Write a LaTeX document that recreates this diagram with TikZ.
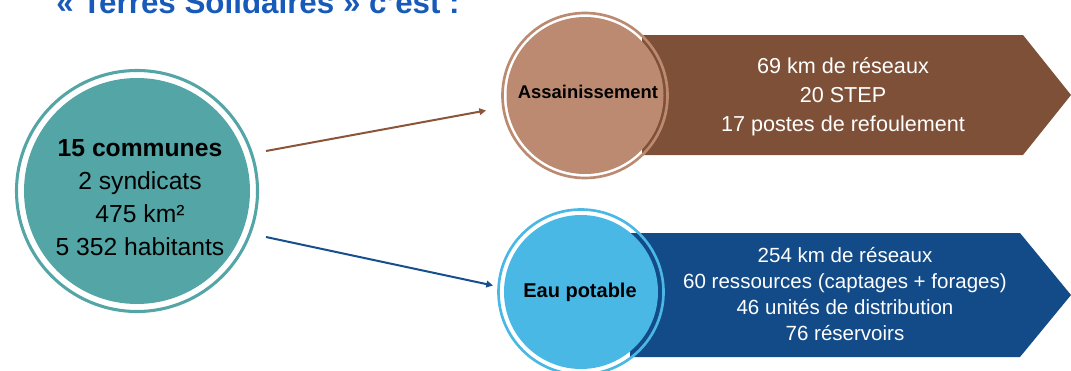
\documentclass[tikz,border=0pt]{standalone}
\usepackage{fontspec}
\setmainfont{Liberation Sans}
\usetikzlibrary{arrows.meta}
\definecolor{teal1}{RGB}{84,165,165}
\definecolor{tan1}{RGB}{187,138,112}
\definecolor{brown1}{RGB}{127,80,56}
\definecolor{lblue}{RGB}{74,184,229}
\definecolor{navy1}{RGB}{18,75,136}
\definecolor{tblue}{RGB}{24,90,185}
\definecolor{abrown}{RGB}{139,85,57}
\definecolor{ablue}{RGB}{22,78,142}
\tikzset{
  ring/.style={draw=#1, line width=2pt, fill=none},
  disc/.style={circle, fill=#1, draw=none, inner sep=0pt},
  conn/.style={-{Triangle[length=5pt,width=5pt]}, line width=1.5pt, draw=#1},
  info/.style={text=white, align=center},
}
\begin{document}
\begin{tikzpicture}[x=0.75pt,y=-0.75pt]
\clip (0,0) rectangle (1071,371);
\useasboundingbox (0,0) rectangle (1071,371);
% title (cut off at top)
\node[anchor=base, text=tblue, font=\bfseries\fontsize{23.5}{28}\selectfont] (title) at (258,13) {« Terres Solidaires » c'est :};
% left circle
\draw[ring=teal1, line width=2.3pt] (137,191) circle[radius=120.5];
\node[disc=teal1, minimum size=169.5pt] (left) at (137,191) {};
\node[align=center, font=\fontsize{18.5}{24.75}\selectfont] (lefttxt) at (140,198)
  {\textbf{15 communes}\\2 syndicats\\475 km²\\5 352 habitants};
% assainissement
\fill[brown1] (642,35) -- (1023,35) -- (1071,95) -- (1023,155) -- (642,155) -- cycle;
\draw[ring=tan1] (585,95.5) circle[radius=82.5];
\node[disc=tan1, minimum size=117.75pt] (ass) at (585,95.5) {};
\node[font=\bfseries\fontsize{13.8}{16}\selectfont] (asstxt) at (588,92) {Assainissement};
\node[info, font=\fontsize{16.2}{21.75}\selectfont] (asinfo) at (843,97)
  {69 km de réseaux\\20 STEP\\17 postes de refoulement};
% eau potable
\fill[navy1] (630,233) -- (1020,233) -- (1071,295) -- (1020,357) -- (630,357) -- cycle;
\draw[ring=lblue] (581,292) circle[radius=82.5];
\node[disc=lblue, minimum size=115.5pt] (eau) at (581,292) {};
\node[font=\bfseries\fontsize{15}{18}\selectfont] (eautxt) at (580,292) {Eau potable};
\node[info, font=\fontsize{15.4}{19.5}\selectfont] (eauinfo) at (845,294)
  {254 km de réseaux\\60 ressources (captages + forages)\\46 unités de distribution\\76 réservoirs};
% connectors
\coordinate (a1) at (266,151);
\coordinate (a2) at (486,110.5);
\coordinate (b1) at (266,237);
\coordinate (b2) at (493,285.5);
\draw[conn=abrown] (a1) -- (a2);
\draw[conn=ablue] (b1) -- (b2);
\end{tikzpicture}
\end{document}
